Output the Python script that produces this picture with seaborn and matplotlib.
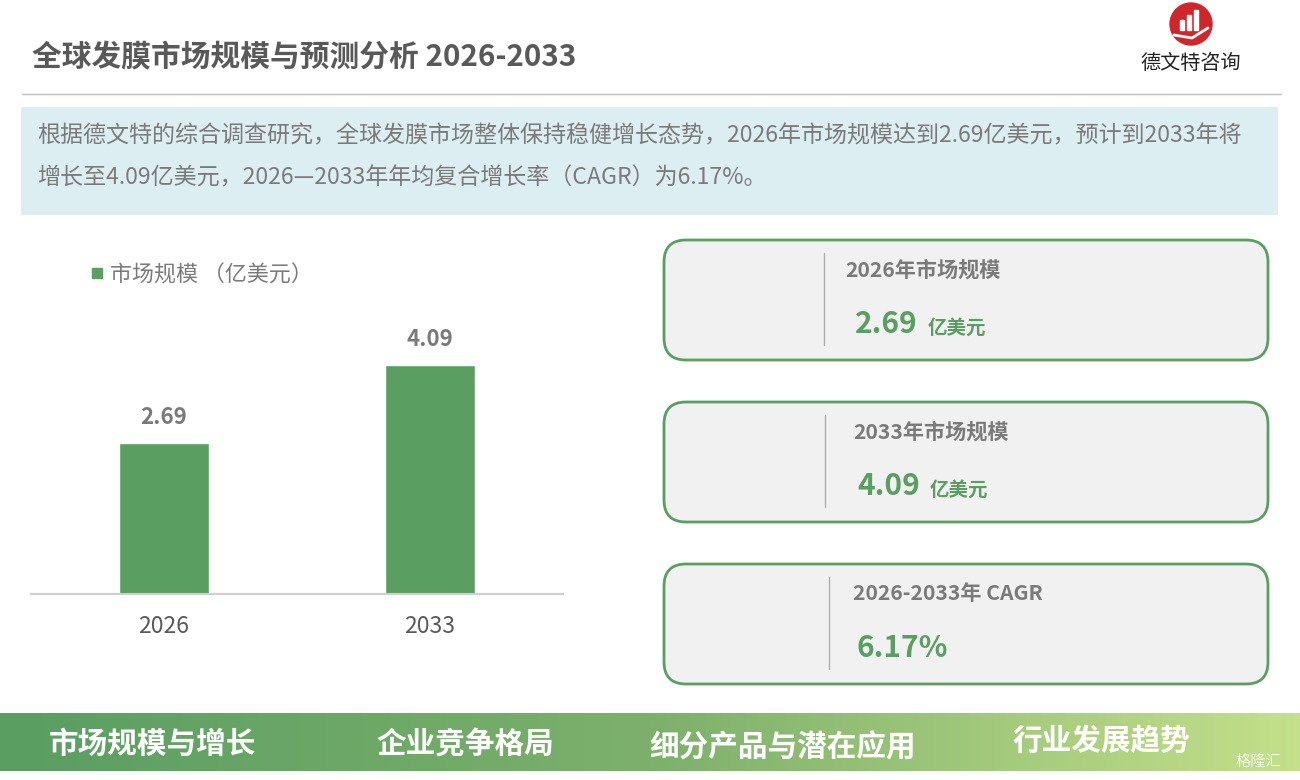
import numpy as np
import pandas as pd
import matplotlib
matplotlib.use('Agg')
import matplotlib.pyplot as plt
import seaborn as sns
from matplotlib.patches import FancyBboxPatch, Rectangle, Circle
from matplotlib.colors import LinearSegmentedColormap

# data
years = ['2026', '2033']
market_size = [2.69, 4.09]
legend_label = '市场规模 （亿美元）'
title = '全球发膜市场规模与预测分析 2026-2033'
intro_lines = ['根据德文特的综合调查研究，全球发膜市场整体保持稳健增长态势，2026年市场规模达到2.69亿美元，预计到2033年将',
               '增长至4.09亿美元，2026—2033年年均复合增长率（CAGR）为6.17%。']
card_titles = ['2026年市场规模', '2033年市场规模', '2026-2033年 CAGR']
card_values = ['2.69', '4.09', '6.17%']
card_units = ['亿美元', '亿美元', '']
tabs = ['市场规模与增长', '企业竞争格局', '细分产品与潜在应用', '行业发展趋势']

sns.set_style('white')
plt.rcParams['font.family'] = ['Noto Sans CJK SC', 'DejaVu Sans']

GREEN = '#5A9E62'
GRAY = '#7A7A7A'

fig = plt.figure(figsize=(13, 7.8), dpi=100)

# background canvas in pixel units
bg = fig.add_axes([0, 0, 1, 1])
bg.set_xlim(0, 1300)
bg.set_ylim(780, 0)
bg.axis('off')

bg.text(32, 57, title, fontsize=21.4, fontweight='bold', color='#595959', va='center', ha='left')
bg.plot([22, 1281], [94, 94], color='#BFBFBF', lw=1)

# logo
bg.add_patch(Circle((1191, 24), 21, color='#D0262A'))
for i, h in enumerate([10, 15, 20]):
    bg.add_patch(Rectangle((1180 + i * 7, 30 - h), 4, h, color='white'))
bg.plot([1174, 1192, 1208], [35, 38, 28], color='white', lw=2)
bg.text(1191, 63, '德文特咨询', fontsize=14.5, color='#222222', ha='center', va='center')

# intro box
bg.add_patch(Rectangle((21, 107), 1257, 108, color='#DDEEF3', lw=0))
bg.text(37, 136, intro_lines[0], fontsize=16.6, color=GRAY, va='center')
bg.text(37, 178, intro_lines[1], fontsize=16.6, color=GRAY, va='center')

# cards
card_tops = [239, 401, 563]
line_x = [824, 825, 829]
title_x = [845, 853, 853]
value_x = [855, 857, 857]
for i in range(3):
    top = card_tops[i]
    bg.add_patch(FancyBboxPatch((664, top + 1), 604, 120,
                                boxstyle='round,pad=0,rounding_size=22',
                                fc='#F1F1F1', ec=GREEN, lw=2))
    bg.plot([line_x[i], line_x[i]], [top + 14, top + 106], color='#AFAFAF', lw=1)
    bg.text(title_x[i], top + 31, card_titles[i], fontsize=15.2, fontweight='bold',
            color=GRAY, va='center')
    t = bg.text(value_x[i], top + 85, card_values[i], fontsize=21.5, fontweight='bold',
                color=GREEN, va='center')
    if card_units[i]:
        fig.canvas.draw()
        bb = t.get_window_extent()
        bg.text(bb.x1 + 10, top + 89, card_units[i], fontsize=14, fontweight='bold',
                color=GREEN, va='center')

# bottom band with gradient
band = fig.add_axes([0, 1 - 771 / 780, 1, 58 / 780])
cmap = LinearSegmentedColormap.from_list('band', [GREEN, '#7DB06C', '#C4E08A'])
band.imshow(np.linspace(0, 1, 256).reshape(1, -1), cmap=cmap, aspect='auto',
            extent=[0, 1300, 0, 58])
band.set_xlim(0, 1300)
band.set_ylim(58, 0)
band.axis('off')
tab_x = [152, 465, 783, 1101]
tab_y = [31, 30, 34, 28]
for x, y, s in zip(tab_x, tab_y, tabs):
    band.text(x, y, s, fontsize=21.3, fontweight='heavy', color='white', ha='center', va='center')
band.text(1258, 48, '格隆汇', fontsize=11, color='white', ha='center', va='center', alpha=0.8)

# bar chart
ax = fig.add_axes([31 / 1300, 1 - 594 / 780, 532 / 1300, 334 / 780])
df = pd.DataFrame({'year': years, 'size': market_size})
sns.barplot(data=df, x='year', y='size', color=GREEN, saturation=1, width=0.335, ax=ax)
ax.set_xlim(-0.5, 1.5)
ax.set_ylim(0, 334 / 56)
ax.patch.set_alpha(0)
for s in ['top', 'right', 'left']:
    ax.spines[s].set_visible(False)
ax.spines['bottom'].set_color('#D0D0D0')
ax.spines['bottom'].set_linewidth(1.5)
ax.set_yticks([])
ax.set_xlabel('')
ax.set_ylabel('')
ax.tick_params(axis='x', length=0, labelsize=16.5, labelcolor='#595959', pad=15)
for i, v in enumerate(market_size):
    ax.text(i, v + 0.46, f'{v:.2f}', ha='center', va='center', fontsize=16,
            fontweight='bold', color=GRAY)

# legend
bg.add_patch(Rectangle((92, 268), 10, 10, color=GREEN))
bg.text(110, 276, legend_label, fontsize=15.8, color=GRAY, va='center')

fig.savefig('out.png', dpi=100)
